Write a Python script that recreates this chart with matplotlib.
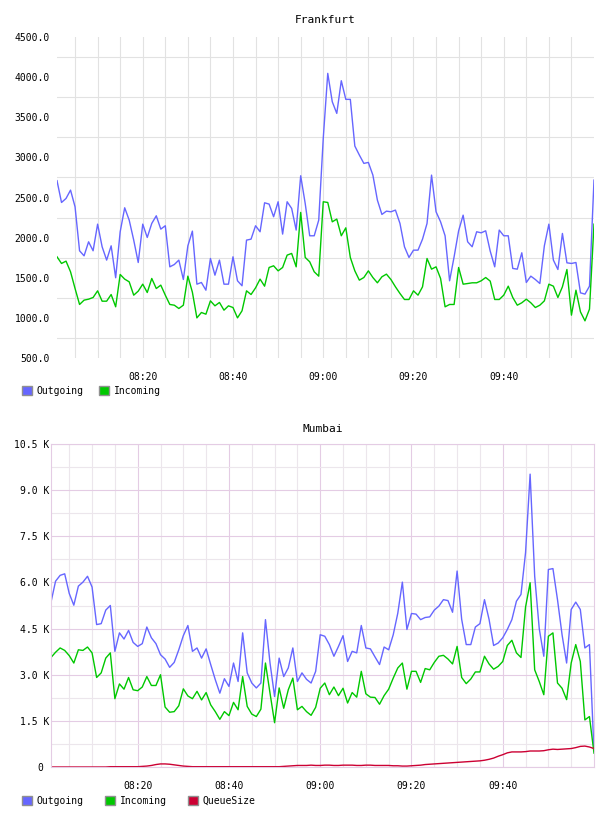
import pandas as pd
import matplotlib
matplotlib.use("Agg")
from matplotlib import pyplot as plt
import matplotlib.dates as mdates
from matplotlib.ticker import FixedLocator, FuncFormatter
from matplotlib.patches import Patch

plt.rcParams['font.family'] = ['DejaVu Sans Mono']

# one sample per minute, 08:01 .. 10:00
times = pd.date_range("2024-01-01 08:01", periods=120, freq="min").to_pydatetime()

# Frankfurt (messages)
fra_out = [2710, 2438, 2488, 2592, 2384, 1836, 1773, 1948, 1836, 2168, 1886, 1720, 1898, 1500, 2073, 2372,
           2218, 1969, 1690, 2168, 2002, 2177, 2272, 2106, 2148, 1636, 1665, 1720, 1478, 1898, 2081,
           1420, 1441, 1345, 1740, 1532, 1720, 1420, 1420, 1761, 1462, 1400, 1969, 1981, 2148, 2073,
           2434, 2418, 2260, 2447, 2044, 2447, 2364, 2094, 2771, 2426, 2023, 2023, 2218, 3236, 4047,
           3693, 3548, 3955, 3723, 3723, 3141, 3029, 2925, 2937, 2779, 2467, 2289, 2330, 2322, 2343,
           2177, 1886, 1753, 1844, 1844, 1981, 2177, 2779, 2322, 2197, 2023, 1462, 1761, 2085, 2280,
           1948, 1886, 2073, 2060, 2085, 1832, 1636, 2094, 2023, 2023, 1616, 1607, 1811, 1441, 1520,
           1478, 1428, 1898, 2168, 1720, 1603, 2052, 1686, 1678, 1690, 1312, 1296, 1395, 2717]
fra_in = [1761, 1678, 1707, 1574, 1366, 1167, 1221, 1233, 1254, 1337, 1208, 1208, 1291, 1138, 1541, 1483,
          1449, 1283, 1333, 1420, 1316, 1491, 1366, 1408, 1283, 1167, 1158, 1117, 1158, 1520, 1320,
          1000, 1067, 1046, 1212, 1150, 1192, 1096, 1150, 1129, 1000, 1088, 1337, 1291, 1374, 1483,
          1395, 1628, 1649, 1586, 1628, 1782, 1803, 1636, 2314, 1753, 1699, 1574, 1520, 2447, 2438,
          2197, 2231, 2023, 2122, 1753, 1586, 1470, 1503, 1586, 1503, 1437, 1512, 1545, 1478, 1387,
          1304, 1229, 1229, 1337, 1283, 1387, 1740, 1607, 1636, 1491, 1138, 1167, 1167, 1628, 1420,
          1428, 1437, 1437, 1462, 1503, 1458, 1229, 1229, 1283, 1395, 1254, 1158, 1188, 1233, 1188,
          1129, 1158, 1212, 1420, 1395, 1254, 1387, 1603, 1034, 1345, 1075, 963, 1109, 2168]

# Mumbai (thousands)
mum_out = [5.36, 6.04, 6.23, 6.28, 5.64, 5.26, 5.88, 6.01, 6.2, 5.85, 4.63, 4.66, 5.1, 5.25, 3.76, 4.36,
           4.16, 4.44, 4.05, 3.92, 4.01, 4.55, 4.2, 4.01, 3.65, 3.51, 3.24, 3.4, 3.81, 4.27, 4.6, 3.76,
           3.87, 3.54, 3.84, 3.33, 2.84, 2.4, 2.87, 2.62, 3.38, 2.78, 4.36, 3.06, 2.73, 2.57, 2.73, 4.79,
           3.38, 2.29, 3.54, 2.94, 3.22, 3.87, 2.78, 3.06, 2.85,
           2.73, 3.11, 4.3, 4.25, 3.98, 3.6, 3.92, 4.27, 3.43, 3.76, 3.71, 4.6, 3.87, 3.84, 3.58, 3.33,
           3.9, 3.81, 4.3, 5.0, 6.01, 4.47, 4.99, 4.97, 4.79, 4.86, 4.88, 5.1, 5.23, 5.44, 5.41, 5.03,
           6.37, 4.8, 3.98, 3.98, 4.55, 4.66, 5.44, 4.8, 3.95, 4.03, 4.2, 4.47, 4.79, 5.39, 5.61, 6.97,
           9.52, 6.2, 4.5, 3.6, 6.42, 6.45, 5.44, 4.3, 3.38, 5.12, 5.36, 5.12, 3.87, 3.98, 0.5]
mum_in = [3.56, 3.73, 3.87, 3.79, 3.62, 3.38, 3.81, 3.79, 3.9, 3.71, 2.91, 3.06, 3.54, 3.71, 2.22, 2.7,
          2.53, 2.91, 2.51, 2.48, 2.6, 2.94, 2.65, 2.65, 3.0, 1.95, 1.78, 1.8, 1.99, 2.54, 2.31, 2.22,
          2.46, 2.18, 2.42, 2.02, 1.8, 1.55, 1.8, 1.67, 2.1, 1.86, 2.94, 1.97, 1.72, 1.64, 1.88, 3.38,
          2.4, 1.44, 2.57, 1.91, 2.51, 2.89, 1.86, 1.97, 1.8,
          1.68, 1.94, 2.56, 2.73, 2.35, 2.6, 2.32, 2.56, 2.08, 2.42, 2.27, 3.11, 2.38, 2.27, 2.26, 2.04,
          2.32, 2.53, 2.89, 3.22, 3.38, 2.53, 3.11, 3.11, 2.75, 3.2, 3.16, 3.4, 3.6, 3.63, 3.51, 3.35,
          3.92, 2.91, 2.71, 2.86, 3.09, 3.09, 3.6, 3.35, 3.18, 3.27, 3.43, 3.95, 4.12, 3.71, 3.56,
          5.2, 5.99, 3.16, 2.78, 2.35, 4.25, 4.36, 2.73, 2.56, 2.19, 3.38, 3.98, 3.43, 1.53, 1.64, 0.45]
mum_queue = [0.0, 0.0, 0.0, 0.0, 0.0, 0.0, 0.0, 0.0, 0.0, 0.0, 0.0, 0.0, 0.0,
             0.01, 0.01, 0.01, 0.01, 0.01, 0.01, 0.01,
             0.02, 0.03, 0.05, 0.08, 0.1, 0.1, 0.09, 0.07, 0.05, 0.03, 0.02,
             0.01, 0.01, 0.01, 0.01, 0.01, 0.01, 0.01, 0.01, 0.01, 0.01,
             0.01, 0.01, 0.01, 0.01, 0.01, 0.01, 0.01, 0.01, 0.01, 0.01,
             0.02, 0.03, 0.04, 0.05,
             0.05, 0.05, 0.06, 0.05, 0.05, 0.06, 0.06, 0.05, 0.05, 0.06, 0.06, 0.06, 0.05, 0.05, 0.06,
             0.06, 0.05, 0.05, 0.05, 0.05, 0.04,
             0.04, 0.03, 0.03, 0.04,
             0.05, 0.06, 0.08, 0.09, 0.1,
             0.11, 0.12, 0.13, 0.14, 0.15, 0.16, 0.17, 0.18, 0.19, 0.2, 0.22, 0.25, 0.29, 0.35, 0.4,
             0.46, 0.49, 0.49, 0.49, 0.5, 0.52, 0.52, 0.52, 0.53, 0.56, 0.58, 0.57, 0.58, 0.59, 0.6,
             0.63, 0.67, 0.68, 0.65, 0.6]

BLUE, GREEN, RED = '#6666ff', '#00c800', '#cc0033'

label_times = pd.to_datetime(["2024-01-01 08:20", "2024-01-01 08:40", "2024-01-01 09:00",
                              "2024-01-01 09:20", "2024-01-01 09:40"]).to_pydatetime()
grid_times = pd.date_range("2024-01-01 08:05", "2024-01-01 09:55", freq="5min").to_pydatetime()

fig = plt.figure(figsize=(6.08, 8.16), dpi=100)

# ---------------- Frankfurt ----------------
ax = fig.add_axes([57/608, 1-358/816, 537/608, 321/816])
ax.plot(times, fra_out, color=BLUE, lw=1.0)
ax.plot(times, fra_in, color=GREEN, lw=1.0)
ax.set_xlim(times[0], times[-1])
ax.set_ylim(500, 4500)
ax.xaxis.set_major_locator(FixedLocator(mdates.date2num(label_times)))
ax.xaxis.set_minor_locator(FixedLocator(mdates.date2num(grid_times)))
ax.xaxis.set_major_formatter(mdates.DateFormatter("%H:%M"))
ax.yaxis.set_major_locator(FixedLocator(range(500, 4501, 500)))
ax.yaxis.set_minor_locator(FixedLocator(range(750, 4300, 500)))
ax.yaxis.set_major_formatter(FuncFormatter(lambda v, p: "%.1f" % v))
ax.grid(which='minor', color='#e2e2e2', lw=0.8)
ax.grid(which='major', axis='x', color='#e2e2e2', lw=0.8)
for s in ax.spines.values():
    s.set_visible(False)
ax.tick_params(which='both', length=0, labelsize=7)
ax.tick_params(axis='x', pad=10)
ax.tick_params(axis='y', pad=5)
ax.set_axisbelow(True)
ax.set_title("Frankfurt", fontsize=8, pad=10)
ax.legend(handles=[Patch(facecolor=BLUE, edgecolor='#909090', label='Outgoing'),
                   Patch(facecolor=GREEN, edgecolor='#909090', label='Incoming')],
          loc='center left', bbox_to_anchor=(22/608, 1-391/816), bbox_transform=fig.transFigure,
          ncol=2, frameon=False, fontsize=7, handlelength=1.0, handleheight=1.0,
          handletextpad=0.5, columnspacing=1.6, borderpad=0, borderaxespad=0)

# ---------------- Mumbai ----------------
ax2 = fig.add_axes([51/608, 1-767/816, 543/608, 323/816])
ax2.plot(times, [v*1000 for v in mum_out], color=BLUE, lw=1.0)
ax2.plot(times, [v*1000 for v in mum_in], color=GREEN, lw=1.0)
ax2.plot(times, [v*1000 for v in mum_queue], color=RED, lw=1.0)
ax2.set_xlim(times[0], times[-1])
ax2.set_ylim(0, 10500)
ax2.xaxis.set_major_locator(FixedLocator(mdates.date2num(label_times)))
ax2.xaxis.set_minor_locator(FixedLocator(mdates.date2num(grid_times)))
ax2.xaxis.set_major_formatter(mdates.DateFormatter("%H:%M"))
ax2.yaxis.set_major_locator(FixedLocator(range(0, 10501, 1500)))
ax2.yaxis.set_minor_locator(FixedLocator(range(750, 10500, 1500)))
ax2.yaxis.set_major_formatter(FuncFormatter(lambda v, p: "0 " if v == 0 else "%.1f K" % (v/1000)))
ax2.grid(which='minor', color='#ece6ec', lw=0.8)
ax2.grid(which='major', color='#e4cce4', lw=0.8)
for s in ax2.spines.values():
    s.set_color('#e4cce4')
    s.set_linewidth(0.8)
ax2.tick_params(which='both', length=0, labelsize=7)
ax2.tick_params(axis='x', pad=10)
ax2.tick_params(axis='y', pad=1)
ax2.set_axisbelow(True)
ax2.set_title("Mumbai", fontsize=8, pad=9)
ax2.legend(handles=[Patch(facecolor=BLUE, edgecolor='#909090', label='Outgoing'),
                    Patch(facecolor=GREEN, edgecolor='#909090', label='Incoming'),
                    Patch(facecolor=RED, edgecolor='#909090', label='QueueSize')],
           loc='center left', bbox_to_anchor=(22/608, 1-801/816), bbox_transform=fig.transFigure,
           ncol=3, frameon=False, fontsize=7, handlelength=1.0, handleheight=1.0,
           handletextpad=0.5, columnspacing=2.2, borderpad=0, borderaxespad=0)

fig.savefig("out.png", dpi=100)
